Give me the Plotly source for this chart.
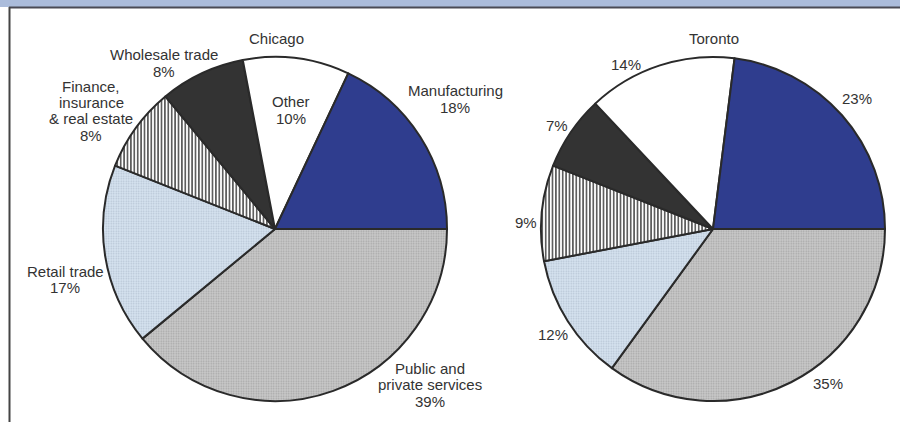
import plotly.graph_objects as go

# Employment share by sector, two metro areas
sectors = [
    "Manufacturing",
    "Other",
    "Wholesale trade",
    "Finance, insurance & real estate",
    "Retail trade",
    "Public and private services",
]
chicago_pct = [18, 10, 8, 8, 17, 39]
toronto_pct = [23, 14, 7, 9, 12, 35]
city_names = ["Chicago", "Toronto"]

W, H = 900, 422

fill_colors = ["#2f3d8e", "#ffffff", "#333333", "#ffffff", "#d6e3f0", "#c9c9c9"]
pattern_shapes = ["", "", "", "|", ".", "."]
pattern_fg = ["#2f3d8e", "#ffffff", "#333333", "#2b2b2b", "#b4c2d2", "#a4a4a4"]
pattern_bg = fill_colors
pattern_size = [6, 6, 6, 3.4, 2.5, 2.5]
pattern_solid = [0.2, 0.2, 0.2, 0.38, 0.3, 0.3]


def px_x(x):
    return x / W


def px_y(y):
    return 1 - y / H


def pie_domain(cx, cy, r):
    return dict(x=[px_x(cx - r), px_x(cx + r)], y=[px_y(cy + r), px_y(cy - r)])


def rev(seq):
    return list(seq)[::-1]


R = 172
centers = [(275, 229), (713, 229)]

fig = go.Figure()
for name, vals, (cx, cy) in zip(city_names, [chicago_pct, toronto_pct], centers):
    # Slices laid out clockwise from 3 o'clock in reverse sector order, so
    # Manufacturing sits just above the 3 o'clock radius.
    fig.add_trace(go.Pie(
        labels=rev(sectors),
        values=rev(vals),
        name=name,
        sort=False,
        direction="clockwise",
        rotation=90,
        textinfo="none",
        hoverinfo="label+percent",
        showlegend=False,
        domain=pie_domain(cx, cy, R),
        marker=dict(
            colors=rev(fill_colors),
            line=dict(color="#2a2a2a", width=2),
            pattern=dict(
                shape=rev(pattern_shapes),
                fgcolor=rev(pattern_fg),
                bgcolor=rev(pattern_bg),
                size=rev(pattern_size),
                solidity=rev(pattern_solid),
                fillmode="replace",
            ),
        ),
    ))


def pct(v):
    return f"{v}%"


# Slice labels: (lines, centre x px, first-line y px)
chi_labels = [
    (["Chicago"], 276, 38),
    (["Manufacturing", pct(chicago_pct[0])], 455, 91),
    (["Other", pct(chicago_pct[1])], 291, 102),
    (["Wholesale trade", pct(chicago_pct[2])], 164, 55),
    (["Finance,", "insurance", "& real estate", pct(chicago_pct[3])], 91, 86),
    (["Retail trade", pct(chicago_pct[4])], 65, 271),
    (["Public and", "private services", pct(chicago_pct[5])], 430, 368),
]
tor_labels = [
    (["Toronto"], 714, 38),
    ([pct(toronto_pct[0])], 857, 98),
    ([pct(toronto_pct[1])], 626, 64),
    ([pct(toronto_pct[2])], 557, 126),
    ([pct(toronto_pct[3])], 526, 222),
    ([pct(toronto_pct[4])], 553, 334),
    ([pct(toronto_pct[5])], 828, 383),
]

PITCH = 16.5
annotations = []
for lines, x, y0 in chi_labels + tor_labels:
    for i, line in enumerate(lines):
        annotations.append(dict(
            text=line,
            x=px_x(x), y=px_y(y0 + i * PITCH),
            xref="paper", yref="paper",
            xanchor="center", yanchor="middle",
            showarrow=False,
            font=dict(family="Liberation Sans, Arial, sans-serif", size=15, color="#333333"),
        ))

shapes = [
    # header band
    dict(type="rect", xref="paper", yref="paper",
         x0=0, x1=1, y0=px_y(7), y1=1.0,
         fillcolor="#abbcdb", line=dict(width=0), layer="below"),
    dict(type="line", xref="paper", yref="paper",
         x0=px_x(9), x1=1, y0=px_y(7.5), y1=px_y(7.5),
         line=dict(color="#4a4a55", width=2)),
    # left frame rule
    dict(type="line", xref="paper", yref="paper",
         x0=px_x(9.5), x1=px_x(9.5), y0=0, y1=px_y(7),
         line=dict(color="#444444", width=2)),
]

fig.update_layout(
    width=W, height=H,
    margin=dict(l=0, r=0, t=0, b=0),
    paper_bgcolor="#ffffff",
    plot_bgcolor="#ffffff",
    annotations=annotations,
    shapes=shapes,
)

fig.write_html("out.html")
